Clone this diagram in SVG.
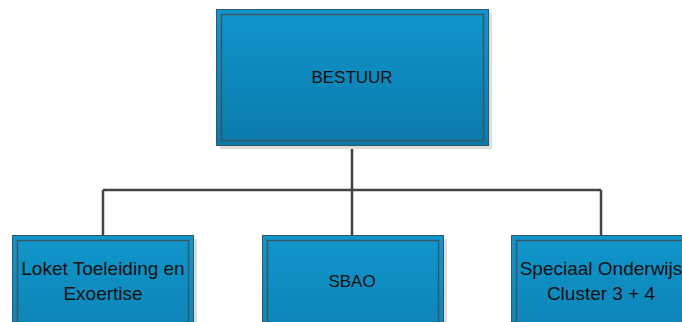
<svg xmlns="http://www.w3.org/2000/svg" width="682" height="322" viewBox="0 0 682 322">
<defs>
<linearGradient id="g" x1="0" y1="0" x2="0" y2="1">
<stop offset="0" stop-color="#1196cc"/>
<stop offset="1" stop-color="#0b7aab"/>
</linearGradient>
<linearGradient id="g2" x1="0" x2="0" gradientUnits="userSpaceOnUse" y1="235" y2="380">
<stop offset="0" stop-color="#1196cc"/>
<stop offset="1" stop-color="#0b7aab"/>
</linearGradient>
</defs>
<style>
.shadow{fill:#dcdcdc}
.outer{stroke:#30586a;stroke-width:1}
.inner{fill:none;stroke:#3a5664;stroke-width:1.5}
.lbl{font-family:"Liberation Sans",Arial,sans-serif;font-size:17px;fill:#111;text-anchor:middle}
.lc{font-size:19px}
.conn{fill:none;stroke:#444;stroke-width:2.5}
</style>
<g id="connectors">
<path class="conn" d="M352 145 V190 M103 190 H601 M103 190 V235 M352 190 V235 M601 190 V235"/>
</g>
<g id="bestuur">
<rect class="shadow" x="220" y="13" width="272" height="136"/>
<rect class="outer" x="216.5" y="9.5" width="272" height="136" fill="url(#g)"/>
<rect class="inner" x="221.5" y="14.5" width="262" height="126"/>
<text class="lbl" x="352" y="83">BESTUUR</text>
</g>
<g id="loket">
<rect class="shadow" x="16" y="239" width="181" height="90"/>
<rect class="outer" x="12.5" y="235.5" width="181" height="90" fill="url(#g2)"/>
<rect class="inner" x="17.5" y="240.5" width="171" height="90"/>
<text class="lbl lc" x="103" y="275">Loket Toeleiding en</text>
<text class="lbl lc" x="103" y="300">Exoertise</text>
</g>
<g id="sbao">
<rect class="shadow" x="266" y="239" width="181" height="90"/>
<rect class="outer" x="262.5" y="235.5" width="181" height="90" fill="url(#g2)"/>
<rect class="inner" x="267.5" y="240.5" width="171" height="90"/>
<text class="lbl" x="352" y="287">SBAO</text>
</g>
<g id="speciaal">
<rect class="shadow" x="515" y="239" width="181" height="90"/>
<rect class="outer" x="511.5" y="235.5" width="181" height="90" fill="url(#g2)"/>
<rect class="inner" x="516.5" y="240.5" width="171" height="90"/>
<text class="lbl lc" x="601" y="275">Speciaal Onderwijs</text>
<text class="lbl lc" x="601" y="300">Cluster 3 + 4</text>
</g>
</svg>
